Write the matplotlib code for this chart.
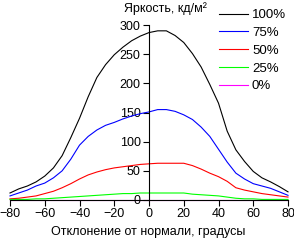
import matplotlib
matplotlib.use('Agg')
import matplotlib.pyplot as plt

# angle of view, degrees
angles = [-80, -75, -70, -65, -60, -55, -50, -45, -40, -35, -30, -25, -20, -15, -10, -5, 0,
          5, 10, 15, 20, 25, 30, 35, 40, 45, 50, 55, 60, 65, 70, 75, 80]

# brightness, cd/m2, per level
lum_100 = [12, 19, 24, 31, 41, 55, 76, 107, 140, 177, 210, 232, 249, 262, 273, 281, 287,
           290, 290, 282, 270, 251, 228, 198, 166, 118, 86, 66, 49, 38, 31, 23, 14]
lum_75 = [7, 12, 17, 24, 29, 38, 50, 70, 94, 109, 120, 128, 133, 139, 144, 148, 151,
          155, 155, 152, 146, 138, 125, 109, 87, 65, 46, 36, 28, 24, 20, 14, 8]
lum_50 = [2, 3, 5, 7, 11, 15, 21, 28, 36, 43, 48, 52, 55, 57, 59, 61, 62,
          63, 63, 63, 63, 59, 53, 46, 40, 32, 21, 17, 14, 11, 9, 7, 5]
lum_25 = [1, 1, 1, 2, 2, 3, 4, 5, 6, 7, 8, 9, 10, 11, 11, 12, 12,
          12, 12, 12, 12, 10, 9, 8, 7, 5, 3, 2, 2, 1, 1, 1, 1]
lum_0 = [0] * len(angles)

labels = ['100%', '75%', '50%', '25%', '0%']
colors = ['black', '#0000ff', '#ff0000', '#00ff00', '#ff00ff']
series = [lum_100, lum_75, lum_50, lum_25, lum_0]

plt.rcParams['font.family'] = ['Liberation Sans', 'DejaVu Sans']
plt.rcParams['font.size'] = 9

fig = plt.figure(figsize=(2.94, 2.42), dpi=100)
ax = fig.add_axes([10 / 294, 1 - 200 / 242, 278 / 294, 175 / 242])

for vals, col, lab in zip(series, colors, labels):
    ax.plot(angles, vals, color=col, lw=0.8, label=lab, clip_on=False)

ax.set_xlim(-80, 80)
ax.set_ylim(0, 300)
ax.set_xticks(range(-80, 81, 20))
ax.set_yticks(range(0, 301, 50))

ax.spines['left'].set_position(('data', 0))
ax.spines['bottom'].set_position(('data', 0))
ax.spines['top'].set_visible(False)
ax.spines['right'].set_visible(False)
for s in ('left', 'bottom'):
    ax.spines[s].set_linewidth(0.8)
    ax.spines[s].set_zorder(5)
ax.tick_params(direction='out', length=4, width=0.8, pad=2, labelsize=9)
ax.patch.set_visible(False)

ax.legend(loc='upper left', bbox_to_anchor=(219 / 294, 1 - 9 / 242), bbox_transform=fig.transFigure,
          frameon=False, handlelength=2.2, handletextpad=0.3, labelspacing=0.42,
          borderaxespad=0, borderpad=0, fontsize=9.5)

fig.text(124 / 294, 1 - 2 / 242, 'Яркость, кд/м²', ha='left', va='top', fontsize=9)
fig.text(148 / 294, 1 - 226 / 242, 'Отклонение от нормали, градусы', ha='center', va='top', fontsize=9)

fig.savefig('out.png', dpi=100)
